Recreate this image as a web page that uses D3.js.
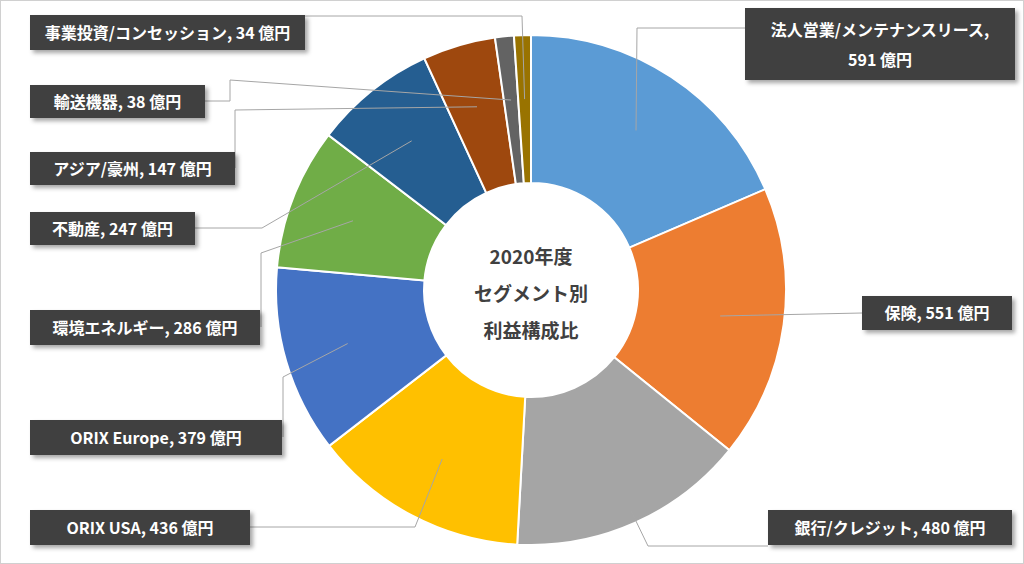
<!DOCTYPE html>
<html><head><meta charset="utf-8">
<script src="https://cdn.jsdelivr.net/npm/d3@7"></script>
<style>
body{margin:0;background:#fff;font-family:"Noto Sans CJK JP","Noto Sans",sans-serif}
</style></head>
<body><svg id="chart" width="1024" height="564"></svg>
<script>
const segments = ['法人営業/メンテナンスリース', '保険', '銀行/クレジット', 'ORIX USA', 'ORIX Europe',
  '環境エネルギー', '不動産', 'アジア/豪州', '輸送機器', '事業投資/コンセッション']
const profits = [591, 551, 480, 436, 379, 286, 247, 147, 38, 34]
const colors = ['#5B9BD5', '#ED7D31', '#A5A5A5', '#FFC000', '#4472C4', '#70AD47', '#255E91', '#9E480E', '#636363', '#997300']
const centerTitle = ['2020年度', 'セグメント別', '利益構成比']

// label box layout: x, y, w, h, anchor side, elbow points (layout only)
const boxes = [
  { x: 745, y: 8, w: 270, h: 72, two: true, from: [745, 28], elbow: [[637, 28]] },
  { x: 862, y: 296, w: 150, h: 34, from: [862, 313], elbow: [] },
  { x: 768, y: 510, w: 244, h: 35, from: [768, 546], elbow: [[648, 546]] },
  { x: 30, y: 510, w: 220, h: 35, from: [250, 527], elbow: [[415, 527]] },
  { x: 30, y: 420, w: 252, h: 35, from: [283, 437], elbow: [[283, 377]] },
  { x: 30, y: 310, w: 230, h: 35, from: [261, 327], elbow: [[261, 253]] },
  { x: 30, y: 212, w: 165, h: 33, from: [195, 228], elbow: [[262, 228]] },
  { x: 30, y: 152, w: 205, h: 33, from: [235, 168], elbow: [[235, 110]] },
  { x: 30, y: 85, w: 175, h: 33, from: [205, 101], elbow: [[230, 101], [230, 80]] },
  { x: 30, y: 15, w: 275, h: 35, from: [305, 16], elbow: [[522, 16]] }
]

const svg = d3.select('#chart')
svg.append('rect').attr('x', 0.5).attr('y', 0.5).attr('width', 1023).attr('height', 563)
  .attr('fill', '#fff').attr('stroke', '#d0d0d0')

const defs = svg.append('defs')
const f = defs.append('filter').attr('id', 'sh').attr('x', '-10%').attr('y', '-10%').attr('width', '130%').attr('height', '150%')
f.append('feDropShadow').attr('dx', 3).attr('dy', 3).attr('stdDeviation', 2).attr('flood-color', '#000').attr('flood-opacity', 0.35)

const cx = 531, cy = 290, outerR = 255, innerR = 107
const g = svg.append('g').attr('transform', `translate(${cx},${cy})`)

const pie = d3.pie().sort(null).value(d => d)
const arcs = pie(profits)
const arc = d3.arc().innerRadius(innerR).outerRadius(outerR)
const mid = d3.arc().innerRadius((innerR + outerR) / 2 + 10).outerRadius((innerR + outerR) / 2 + 10)

g.selectAll('path').data(arcs).enter().append('path')
  .attr('d', arc).attr('fill', (d, i) => colors[i]).attr('stroke', '#fff').attr('stroke-width', 2)

// leader lines
arcs.forEach((a, i) => {
  const b = boxes[i]
  const c = mid.centroid(a)
  const pts = [b.from, ...b.elbow, [c[0] + cx, c[1] + cy]]
  svg.append('polyline').attr('points', pts.map(p => p.join(',')).join(' '))
    .attr('fill', 'none').attr('stroke', '#a6a6a6').attr('stroke-width', 1)
})

// label boxes
boxes.forEach((b, i) => {
  const lg = svg.append('g')
  lg.append('rect').attr('x', b.x).attr('y', b.y).attr('width', b.w).attr('height', b.h)
    .attr('fill', '#404040').attr('filter', 'url(#sh)')
  const t = lg.append('text').attr('fill', '#fff').attr('font-size', 16).attr('font-weight', 'bold')
    .attr('text-anchor', 'middle')
  if (b.two) {
    t.append('tspan').attr('x', b.x + b.w / 2).attr('y', b.y + 28).text(`${segments[i]},`)
    t.append('tspan').attr('x', b.x + b.w / 2).attr('y', b.y + 58).text(`${profits[i]} 億円`)
  } else {
    t.attr('x', b.x + b.w / 2).attr('y', b.y + b.h / 2 + 6).text(`${segments[i]}, ${profits[i]} 億円`)
  }
})

svg.append('text').attr('text-anchor', 'middle').attr('fill', '#404040')
  .attr('font-size', 19).attr('font-weight', 'bold')
  .selectAll('tspan').data(centerTitle).enter().append('tspan')
  .attr('x', cx).attr('y', (d, i) => 264 + i * 37).text(d => d)
</script></body></html>
